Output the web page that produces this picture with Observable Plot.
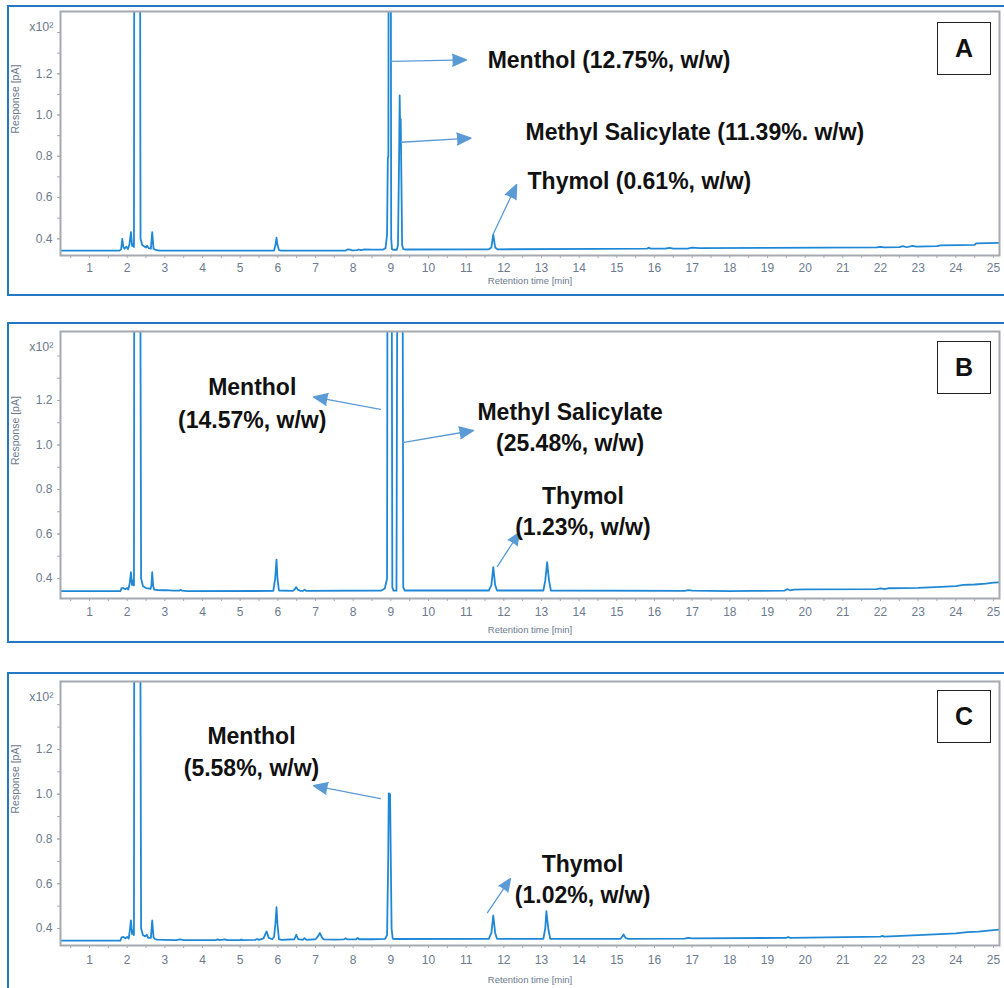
<!DOCTYPE html>
<html><head><meta charset="utf-8">
<script src="https://cdn.jsdelivr.net/npm/d3@7"></script>
<script src="https://cdn.jsdelivr.net/npm/@observablehq/plot@0.6"></script>
<style>
body{margin:0;background:#fff;}
#root{position:relative;width:1004px;height:988px;overflow:hidden;background:#fff;font-family:"Liberation Sans",Arial,sans-serif;}
.box{position:absolute;border:2.5px solid #2377c4;box-sizing:border-box;}
.panel{position:absolute;left:0;}
.panel svg{display:block;}
.tag{position:absolute;left:937px;width:54px;height:53px;border:1.3px solid #222;box-sizing:border-box;background:#fff;font:bold 25px "Liberation Sans",Arial,sans-serif;color:#111;display:flex;align-items:center;justify-content:center;}
g[aria-label="ylabel"] text{letter-spacing:1.8px;}
</style></head><body><div id="root"></div>
<script>
// ---- data ----
const xTicks = [1,2,3,4,5,6,7,8,9,10,11,12,13,14,15,16,17,18,19,20,21,22,23,24,25];
const xMinorTicks = [0.5,1.5,2.5,3.5,4.5,5.5,6.5,7.5,8.5,9.5,10.5,11.5,12.5,13.5,14.5,15.5,16.5,17.5,18.5,19.5,20.5,21.5,22.5,23.5,24.5];
const yTicks = [0.4,0.6,0.8,1.0,1.2];
const yMinorTicks = [0.4,0.5,0.6,0.7,0.8,0.9,1.0,1.1,1.2,1.3,1.4];
const panelTags = ["A","B","C"];

const traceA = [[0.23,0.343],[1.80,0.343],[1.84,0.350],[1.87,0.400],[1.90,0.360],[1.93,0.352],[1.98,0.362],[2.02,0.350],[2.06,0.372],[2.10,0.432],[2.13,0.365],[2.16,0.375],[2.18,0.360],[2.195,3.0],[2.33,3.0],[2.355,0.400],[2.40,0.370],[2.46,0.362],[2.50,0.358],[2.53,0.366],[2.57,0.355],[2.63,0.352],[2.665,0.432],[2.70,0.352],[2.76,0.346],[2.85,0.343],[5.90,0.343],[5.94,0.372],[5.965,0.405],[5.99,0.372],[6.03,0.345],[6.08,0.343],[7.80,0.343],[7.85,0.348],[7.92,0.347],[7.97,0.344],[8.10,0.345],[8.15,0.348],[8.20,0.345],[8.28,0.348],[8.50,0.347],[8.80,0.348],[8.86,0.355],[8.90,0.42],[8.92,0.79],[8.935,0.80],[8.95,3.0],[8.99,3.0],[9.01,0.40],[9.03,0.350],[9.06,0.347],[9.16,0.347],[9.19,0.37],[9.22,0.80],[9.235,1.095],[9.25,0.90],[9.262,0.98],[9.28,0.70],[9.30,0.37],[9.33,0.350],[9.40,0.348],[11.60,0.349],[11.67,0.358],[11.72,0.420],[11.77,0.358],[11.83,0.349],[14.50,0.351],[15.80,0.352],[15.85,0.357],[15.90,0.352],[16.30,0.353],[16.40,0.356],[16.50,0.352],[16.90,0.353],[17.00,0.357],[17.20,0.355],[19.00,0.356],[21.90,0.358],[22.00,0.361],[22.10,0.358],[22.50,0.360],[22.60,0.364],[22.70,0.359],[22.85,0.366],[22.95,0.362],[23.50,0.364],[23.60,0.368],[24.50,0.371],[24.55,0.378],[25.16,0.380]];

const traceB = [[0.23,0.343],[1.82,0.343],[1.85,0.356],[1.90,0.357],[1.95,0.352],[2.00,0.357],[2.03,0.350],[2.07,0.380],[2.10,0.428],[2.13,0.370],[2.16,0.392],[2.18,0.368],[2.195,3.0],[2.33,3.0],[2.37,0.400],[2.42,0.365],[2.50,0.357],[2.56,0.355],[2.62,0.353],[2.645,0.370],[2.665,0.428],[2.69,0.365],[2.72,0.350],[2.80,0.348],[2.95,0.347],[3.05,0.348],[3.20,0.345],[3.38,0.345],[3.42,0.349],[3.46,0.345],[3.60,0.343],[5.88,0.344],[5.93,0.400],[5.965,0.485],[5.99,0.400],[6.03,0.346],[6.40,0.344],[6.45,0.352],[6.49,0.361],[6.53,0.350],[6.60,0.344],[6.67,0.344],[6.71,0.350],[6.75,0.344],[8.75,0.346],[8.84,0.355],[8.90,0.40],[8.92,3.0],[9.01,3.0],[9.04,0.360],[9.07,0.345],[9.15,0.345],[9.19,3.0],[9.30,3.0],[9.33,0.360],[9.37,0.346],[11.60,0.346],[11.67,0.370],[11.72,0.451],[11.77,0.370],[11.82,0.346],[13.05,0.346],[13.10,0.390],[13.15,0.473],[13.20,0.390],[13.25,0.346],[16.80,0.344],[16.90,0.348],[17.00,0.345],[18.00,0.343],[18.60,0.344],[19.45,0.345],[19.52,0.352],[19.60,0.347],[19.70,0.350],[20.00,0.351],[21.90,0.352],[22.00,0.356],[22.10,0.352],[22.20,0.356],[23.00,0.358],[23.60,0.362],[24.00,0.366],[24.20,0.371],[24.50,0.373],[24.80,0.377],[25.00,0.381],[25.16,0.383]];

const traceC = [[0.23,0.346],[1.82,0.346],[1.85,0.360],[1.90,0.362],[1.95,0.356],[2.00,0.362],[2.04,0.355],[2.07,0.390],[2.10,0.436],[2.13,0.375],[2.16,0.392],[2.18,0.370],[2.195,3.0],[2.33,3.0],[2.37,0.400],[2.42,0.370],[2.48,0.365],[2.52,0.372],[2.56,0.358],[2.63,0.358],[2.665,0.436],[2.70,0.360],[2.74,0.352],[2.80,0.350],[3.00,0.349],[3.30,0.348],[3.40,0.351],[3.50,0.348],[4.35,0.348],[4.40,0.351],[4.45,0.348],[4.60,0.351],[4.65,0.348],[5.00,0.348],[5.03,0.351],[5.06,0.348],[5.40,0.349],[5.45,0.353],[5.50,0.349],[5.62,0.356],[5.70,0.387],[5.76,0.358],[5.85,0.352],[5.90,0.362],[5.94,0.430],[5.965,0.495],[5.99,0.420],[6.03,0.352],[6.10,0.349],[6.44,0.352],[6.49,0.372],[6.54,0.352],[6.66,0.349],[6.71,0.357],[6.76,0.349],[7.00,0.352],[7.08,0.368],[7.115,0.380],[7.17,0.360],[7.22,0.351],[7.50,0.350],[7.75,0.351],[7.80,0.356],[7.85,0.351],[8.08,0.352],[8.12,0.358],[8.16,0.352],[8.50,0.352],[8.85,0.354],[8.90,0.370],[8.93,0.700],[8.945,1.004],[8.98,1.000],[9.00,0.700],[9.02,0.400],[9.05,0.355],[9.10,0.353],[11.60,0.354],[11.67,0.380],[11.72,0.458],[11.77,0.380],[11.82,0.354],[13.05,0.354],[13.10,0.400],[13.13,0.477],[13.18,0.400],[13.23,0.354],[15.10,0.354],[15.15,0.365],[15.18,0.373],[15.23,0.358],[15.30,0.354],[16.80,0.355],[16.90,0.358],[17.00,0.356],[19.50,0.358],[19.55,0.362],[19.60,0.358],[22.00,0.364],[22.05,0.367],[22.10,0.364],[23.00,0.370],[24.00,0.378],[24.30,0.384],[24.60,0.386],[25.00,0.393],[25.16,0.395]];

// annotation anchors in data units (time, response)
const labelsA = [
  {text: "Menthol (12.75%, w/w)", t: 11.57, v: 1.264},
  {text: "Methyl Salicylate (11.39%. w/w)", t: 12.575, v: 0.915},
  {text: "Thymol (0.61%, w/w)", t: 12.63, v: 0.678}
];
const arrowsA = [
  {t1: 8.99, v1: 1.260, t2: 11.01, v2: 1.267},
  {t1: 9.275, v1: 0.868, t2: 11.13, v2: 0.888},
  {t1: 11.725, v1: 0.426, t2: 12.34, v2: 0.663}
];
const labelsB = [
  {text: "Menthol", t: 5.32, v: 1.258},
  {text: "(14.57%, w/w)", t: 5.32, v: 1.110},
  {text: "Methyl Salicylate", t: 13.76, v: 1.146},
  {text: "(25.48%, w/w)", t: 13.76, v: 1.007},
  {text: "Thymol", t: 14.1, v: 0.769},
  {text: "(1.23%, w/w)", t: 14.1, v: 0.629}
];
const arrowsB = [
  {t1: 8.725, v1: 1.160, t2: 6.946, v2: 1.216},
  {t1: 9.31, v1: 1.011, t2: 11.195, v2: 1.065},
  {t1: 11.83, v1: 0.454, t2: 12.415, v2: 0.607}
];
const labelsC = [
  {text: "Menthol", t: 5.30, v: 1.257},
  {text: "(5.58%, w/w)", t: 5.30, v: 1.114},
  {text: "Thymol", t: 14.09, v: 0.686},
  {text: "(1.02%, w/w)", t: 14.09, v: 0.547}
];
const arrowsC = [
  {t1: 8.725, v1: 0.980, t2: 6.946, v2: 1.038},
  {t1: 11.566, v1: 0.471, t2: 12.177, v2: 0.623}
];

// ---- drawing ----
const xDomain = [0.23, 25.16];
const traceColor = "#1f88d6";
const arrowColor = "#5b9bd5";
const grey = "#a6a9b0";
const tickColor = "#6c7a8e";
const narrow = '"Liberation Sans Narrow","Arial Narrow","Liberation Sans",Arial,sans-serif';

function panel(trace, yDomain, labels, arrows, cfg) {
  return Plot.plot({
    width: 1004, height: cfg.height,
    marginLeft: 60, marginRight: 5, marginTop: 11, marginBottom: cfg.mb,
    style: {fontFamily: narrow, fontSize: "12px", color: tickColor, background: "transparent", overflow: "visible"},
    x: {domain: xDomain, label: null},
    y: {domain: yDomain, label: null},
    marks: [
      Plot.line(trace, {x: d => d[0], y: d => d[1], stroke: traceColor, strokeWidth: 1.8, clip: true}),
      Plot.frame({stroke: grey, strokeWidth: 2}),
      Plot.axisX({ticks: xMinorTicks, tickSize: 3, tickFormat: () => "", stroke: grey, label: null}),
      Plot.axisX({ticks: xTicks, tickSize: 3, tickPadding: cfg.tp, stroke: grey, fill: tickColor, tickFormat: d => String(d), label: null}),
      Plot.axisY({ticks: yMinorTicks, tickSize: 3, tickFormat: () => "", stroke: grey, label: null}),
      Plot.axisY({ticks: yTicks, tickSize: 3, tickPadding: 5, stroke: grey, fill: tickColor, tickFormat: d => d.toFixed(1), label: null}),
      Plot.text(["x10²"], {text: d => d, frameAnchor: "top-left", textAnchor: "end", dx: -7, dy: 11, fontSize: 12.5, fill: tickColor}),
      Plot.text(["Response [pA]"], {text: d => d, frameAnchor: "left", dx: -45, rotate: -90, fontSize: 10.5, fontFamily: '"Liberation Sans",Arial,sans-serif', fill: tickColor, ariaLabel: "ylabel"}),
      Plot.text(["Retention time [min]"], {text: d => d, frameAnchor: "bottom", dy: cfg.xl, fontSize: 9.5, fontFamily: '"Liberation Sans",Arial,sans-serif', fill: tickColor}),
      Plot.arrow(arrows, {x1: "t1", y1: "v1", x2: "t2", y2: "v2", stroke: arrowColor, fill: arrowColor, strokeWidth: 1.3, headLength: 17.5, headAngle: 46}),
      Plot.text(labels, {x: "t", y: "v", text: "text", textAnchor: cfg.anchor, fontSize: 23, fontWeight: "bold", fill: "#111", fontFamily: '"Liberation Sans",Arial,sans-serif'})
    ]
  });
}

const root = document.getElementById("root");
const panels = [
  {trace: traceA, y: [0.319, 1.502], labels: labelsA, arrows: arrowsA, top: 0, height: 300, mb: 45, tp: 5, xl: 28, anchor: "start", boxTop: 5, boxH: 291, tagTop: 22},
  {trace: traceB, y: [0.310, 1.510], labels: labelsB, arrows: arrowsB, top: 320, height: 330, mb: 52, tp: 6, xl: 34, anchor: "middle", boxTop: 322, boxH: 321, tagTop: 341},
  {trace: traceC, y: [0.324, 1.5036], labels: labelsC, arrows: arrowsC, top: 670, height: 318, mb: 43, tp: 7, xl: 37, anchor: "middle", boxTop: 672, boxH: 330, tagTop: 690}
];
panels.forEach((p, i) => {
  const box = document.createElement("div");
  box.className = "box";
  box.style.left = "7px"; box.style.top = p.boxTop + "px";
  box.style.width = "1010px"; box.style.height = p.boxH + "px";
  root.appendChild(box);
  const wrap = document.createElement("div");
  wrap.className = "panel";
  wrap.style.top = p.top + "px";
  wrap.appendChild(panel(p.trace, p.y, p.labels, p.arrows, p));
  root.appendChild(wrap);
  const tag = document.createElement("div");
  tag.className = "tag";
  tag.style.top = p.tagTop + "px";
  tag.textContent = panelTags[i];
  root.appendChild(tag);
});
</script></body></html>
